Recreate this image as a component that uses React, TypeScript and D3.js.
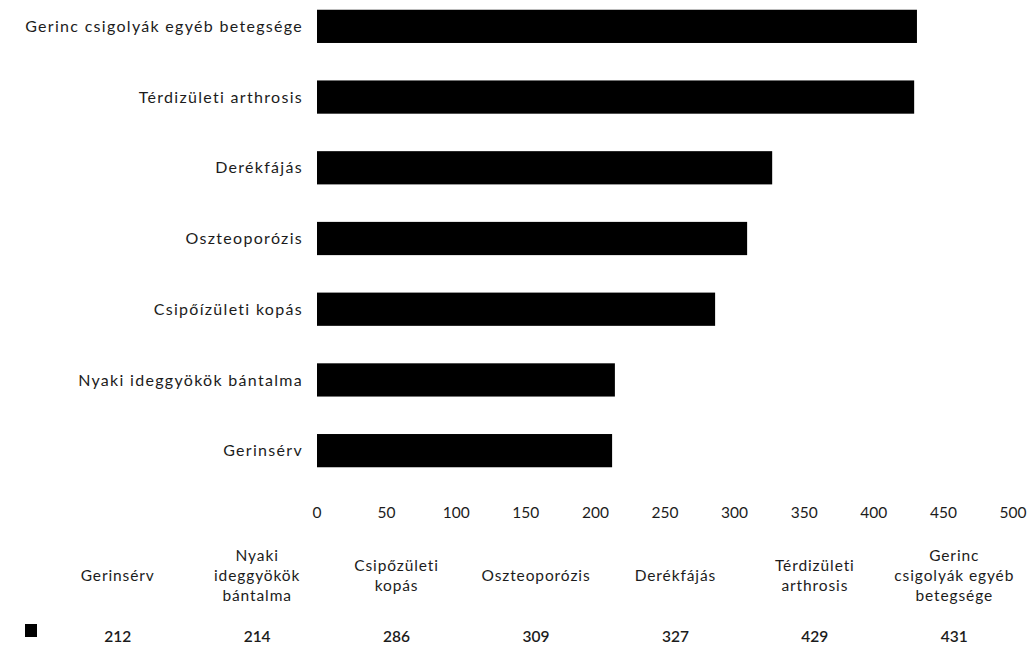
import React from 'react';
import * as d3 from 'd3';

const categories = [
  'Gerinc csigolyák egyéb betegsége',
  'Térdizületi arthrosis',
  'Derékfájás',
  'Oszteoporózis',
  'Csipőízületi kopás',
  'Nyaki ideggyökök bántalma',
  'Gerinsérv',
];
const values = [431, 429, 327, 309, 286, 214, 212];
const ticks = [0, 50, 100, 150, 200, 250, 300, 350, 400, 450, 500];

// table columns run from smallest to largest
const tableLabels = [
  ['Gerinsérv'],
  ['Nyaki', 'ideggyökök', 'bántalma'],
  ['Csipőzületi', 'kopás'],
  ['Oszteoporózis'],
  ['Derékfájás'],
  ['Térdizületi', 'arthrosis'],
  ['Gerinc', 'csigolyák egyéb', 'betegsége'],
];
const tableValues = [212, 214, 286, 309, 327, 429, 431];

const W = 1029;
const H = 650;
const FONT = 'Lato, "Open Sans", sans-serif';
const INK = '#1c1c1c';

const App: React.FC = () => {
  const x = d3.scaleLinear().domain([0, 500]).range([317, 1013]);
  const y = d3.scaleBand<string>()
    .domain(categories)
    .range([-9, 486])
    .paddingInner(0.53)
    .paddingOuter(0.265);
  const col = d3.scaleBand<number>()
    .domain(d3.range(tableValues.length))
    .range([48, 1024]);

  return (
    <svg width={W} height={H} style={{ position: 'absolute', left: 0, top: 0, background: '#fff' }}
      fontFamily={FONT}>
      <rect width={W} height={H} fill="#fff" />
      {categories.map((c, i) => (
        <g key={c}>
          <rect x={x(0)} y={y(c)} width={x(values[i]) - x(0)} height={y.bandwidth()} fill="#000" />
          <text x={303} y={(y(c) ?? 0) + y.bandwidth() / 2} dy="0.35em" textAnchor="end"
            fontSize={16} fill={INK} letterSpacing={1.3}>{c}</text>
        </g>
      ))}
      {ticks.map(t => (
        <text key={t} x={x(t)} y={513} dy="0.35em" textAnchor="middle" fontSize={15.5} fill={INK}>{t}</text>
      ))}
      {tableLabels.map((lines, i) => {
        const cx = (col(i) ?? 0) + col.bandwidth() / 2;
        const lh = 20;
        const top = 576 - ((lines.length - 1) * lh) / 2;
        return (
          <g key={i}>
            {lines.map((l, j) => (
              <text key={j} x={cx} y={top + j * lh} dy="0.35em" textAnchor="middle"
                fontSize={15.5} fill={INK} letterSpacing={0.9}>{l}</text>
            ))}
            <text x={cx} y={637} dy="0.35em" textAnchor="middle" fontSize={15.5} fill={INK}
              fontWeight={600}>{tableValues[i]}</text>
          </g>
        );
      })}
      <rect x={25} y={624} width={12} height={13} fill="#000" />
    </svg>
  );
};

export default App;
